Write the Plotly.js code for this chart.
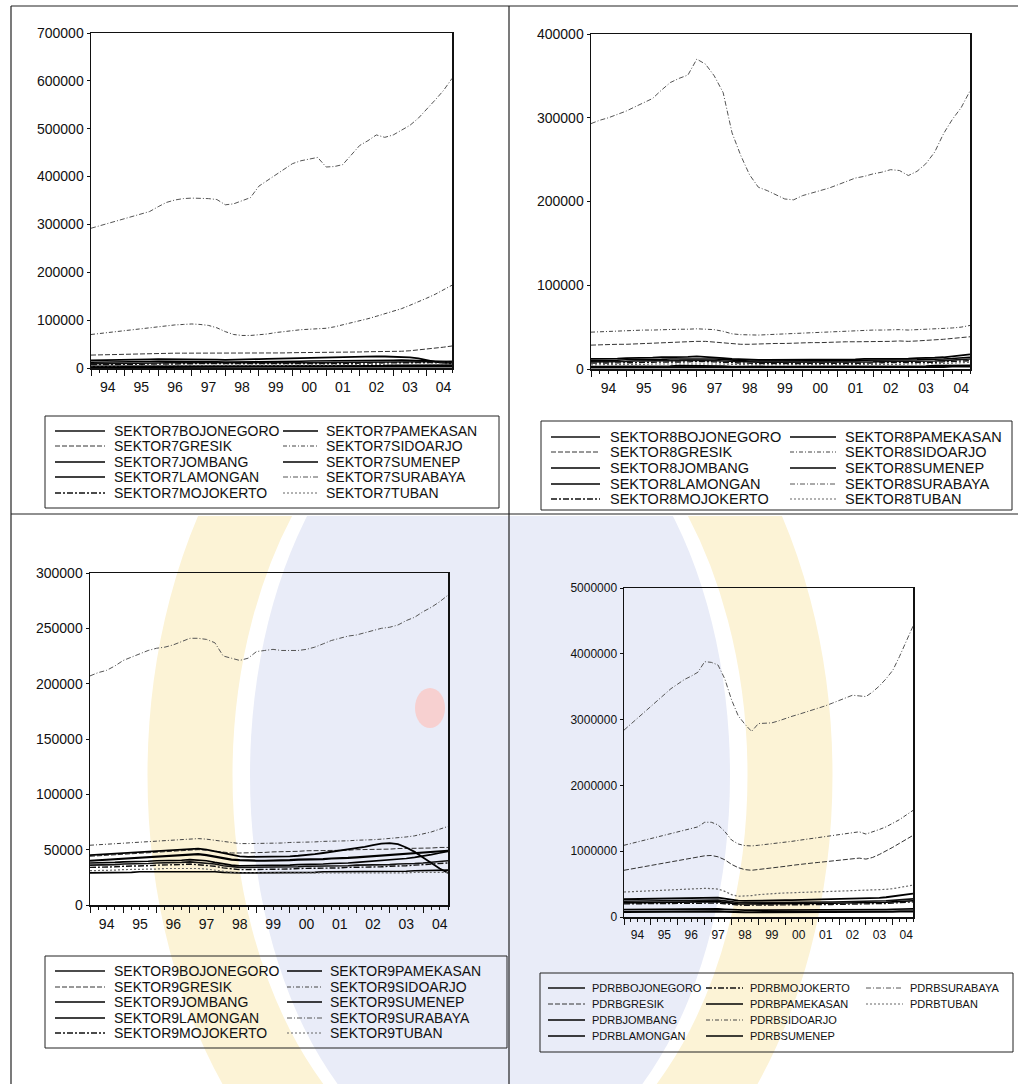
<!DOCTYPE html>
<html><head><meta charset="utf-8">
<script src="https://cdn.plot.ly/plotly-3.0.1.min.js"></script>
<style>html,body{margin:0;padding:0;background:#fff;}#chart{width:1018px;height:1084px;}</style>
</head><body><div id="chart"></div>
<script>
const W = 1018, H = 1084;
const FONT = 'Liberation Sans, Arial, sans-serif';

// quarterly periods 1994Q1 .. 2004Q4
const years = [1994,1995,1996,1997,1998,1999,2000,2001,2002,2003,2004];
const quarterMonths = ['01','04','07','10'];
const quarters = [];
years.forEach(y => quarterMonths.forEach(m => quarters.push(y + '-' + m + '-01')));

const regions = ['BOJONEGORO','GRESIK','JOMBANG','LAMONGAN','MOJOKERTO','PAMEKASAN','SIDOARJO','SUMENEP','SURABAYA','TUBAN'];

// ---- SEKTOR 7 ----
const s7_bojonegoro = [9000,9000,9500,9500,10000,10000,10000,10500,10500,11000,11000,11000,11000,11000,10500,10000,9500,9500,9500,9500,10000,10000,10000,10500,10500,10500,11000,11000,11000,11500,11500,11500,12000,12000,12000,12500,12500,12500,13000,13000,13000,13500,13500,14000];
const s7_gresik = [27000,27500,28000,28500,29000,29500,30000,30000,30500,30500,31000,31000,31000,31000,30500,30500,30000,30000,30000,30000,30500,31000,31000,31500,32000,32000,32500,32500,33000,33000,33000,33500,33500,34000,34000,34000,34500,35000,36000,37500,39000,41000,43500,46000];
const s7_jombang = [12000,12000,12500,12500,13000,13000,13500,13500,14000,14000,14500,14500,14500,14000,13500,13000,12500,12500,12500,13000,13000,13500,13500,14000,14000,14000,14500,14500,15000,15000,15000,15500,15500,15500,16000,16000,16000,16500,16500,16000,15000,14000,13000,12500];
const s7_lamongan = [16000,16500,17000,17000,17500,17500,18000,18000,18500,18500,19000,19000,19000,18500,18000,17500,17000,17000,17500,18000,18500,19000,19500,20000,20500,21000,21500,22000,22500,23000,23500,24000,24500,24500,24500,24000,23500,23000,22000,20000,16000,13000,11000,10000];
const s7_mojokerto = [7000,7000,7500,7500,7500,8000,8000,8000,8500,8500,8500,9000,9000,9000,8500,8500,8000,8000,8000,8000,8000,8500,8500,8500,9000,9000,9000,9000,9500,9500,9500,10000,10000,10000,10500,10500,10500,11000,11000,11000,11500,11500,12000,12000];
const s7_pamekasan = [2000,2000,2000,2000,2000,2500,2500,2500,2500,2500,2500,2500,2500,2500,2500,2500,2000,2000,2000,2000,2000,2000,2000,2500,2500,2500,2500,2500,2500,2500,2500,3000,3000,3000,3000,3000,3000,3000,3000,3500,3500,3500,3500,3500];
const s7_sidoarjo = [70000,72000,74000,76000,78000,80000,82000,84000,87000,89000,90000,91000,92000,91000,89000,84000,76000,70000,68000,68000,69000,71000,74000,76000,79000,80000,81000,82000,83000,86000,90000,95000,99000,103000,108000,113000,118000,124000,131000,138000,146000,154000,163000,173000];
const s7_sumenep = [3500,3500,3500,3500,4000,4000,4000,4000,4000,4500,4500,4500,4500,4500,4000,4000,4000,3500,3500,3500,3500,4000,4000,4000,4000,4000,4500,4500,4500,4500,4500,5000,5000,5000,5000,5000,5500,5500,5500,5500,6000,6000,6000,6000];
const s7_surabaya = [292000,297000,302000,307000,312000,317000,322000,327000,337000,346000,351000,354000,355000,355000,354000,352000,341000,343000,349000,356000,380000,392000,403000,416000,427000,433000,437000,440000,420000,421000,425000,445000,465000,475000,487000,482000,487000,497000,507000,522000,540000,560000,580000,605000];
const s7_tuban = [5000,5000,5000,5500,5500,5500,6000,6000,6000,6000,6500,6500,6500,6500,6000,6000,5500,5500,5500,5500,5500,6000,6000,6000,6000,6000,6500,6500,6500,6500,7000,7000,7000,7000,7500,7500,7500,7500,8000,8000,8000,8500,8500,8500];

// ---- SEKTOR 8 ----
const s8_bojonegoro = [8500,8500,9000,9000,9000,9500,9500,9500,10000,10000,10000,10500,10500,10500,10000,9500,9000,8500,8000,8000,8000,8000,8000,8000,8000,8000,8000,8500,8500,8500,8500,8500,8500,9000,9000,9000,9000,9000,9500,9500,10000,10500,11000,12000];
const s8_gresik = [28500,29000,29000,29500,29500,30000,30000,30500,31000,31500,32000,32500,33000,33000,32000,31000,30000,29500,29500,30000,30000,30500,30500,31000,31000,31500,31500,32000,32000,32500,32500,32500,33000,33000,33000,33500,33000,33500,34000,34500,35500,36500,37500,38500];
const s8_jombang = [10000,10000,10500,10500,11000,11000,11000,11500,11500,12000,12000,12500,12500,12500,12000,11500,10500,10000,9500,9500,9500,9500,9500,9500,9500,9500,10000,10000,10000,10000,10000,10500,10500,10500,10500,11000,11000,11000,11500,11500,12000,12500,13000,14000];
const s8_lamongan = [12000,12000,12500,12500,13000,13000,13500,13500,14000,14000,14500,14500,15000,14500,14000,13000,12000,11500,11000,11000,11000,11000,11000,11000,11000,11000,11000,11500,11500,11500,11500,12000,12000,12000,12500,12500,12500,13000,13000,13500,14000,15000,16000,17500];
const s8_mojokerto = [7000,7000,7000,7500,7500,7500,8000,8000,8000,8500,8500,8500,9000,9000,8500,8000,7500,7000,7000,6500,6500,6500,6500,6500,6500,6500,7000,7000,7000,7000,7000,7000,7000,7500,7500,7500,7500,7500,7500,8000,8500,9000,9500,10000];
const s8_pamekasan = [2000,2000,2000,2000,2000,2000,2500,2500,2500,2500,2500,2500,2500,2500,2500,2000,2000,2000,2000,2000,2000,2000,2000,2000,2000,2000,2000,2000,2000,2000,2000,2000,2500,2500,2500,2500,2500,2500,2500,2500,2500,3000,3000,3000];
const s8_sidoarjo = [44000,44500,45000,45500,46000,46000,46500,46500,47000,47000,47500,47500,48000,47500,47000,45000,42000,41000,40500,40500,41000,41500,42000,42500,43000,43500,44000,44500,45000,45500,46000,46000,46500,46500,47000,47000,46500,47000,47000,47500,48000,49000,50000,52000];
const s8_sumenep = [3000,3000,3000,3000,3500,3500,3500,3500,3500,3500,4000,4000,4000,4000,3500,3500,3000,3000,3000,3000,3000,3000,3000,3000,3000,3000,3000,3000,3000,3500,3500,3500,3500,3500,3500,3500,3500,3500,3500,4000,4000,4000,4500,4500];
const s8_surabaya = [293000,297000,300000,304000,308000,313000,318000,323000,333000,342000,347000,351000,370000,364000,350000,330000,282000,255000,232000,217000,213000,208000,203000,202000,207000,210000,213000,216000,220000,224000,228000,230000,233000,235000,238000,237000,231000,236000,245000,259000,281000,298000,312000,332000];
const s8_tuban = [5000,5000,5000,5500,5500,5500,5500,6000,6000,6000,6000,6500,6500,6500,6000,6000,5500,5000,5000,5000,5000,5000,5000,5000,5000,5000,5000,5000,5500,5500,5500,5500,5500,5500,5500,5500,6000,6000,6000,6000,6500,7000,7500,8000];

// ---- SEKTOR 9 ----
const s9_bojonegoro = [36000,36000,36500,36500,37000,37000,37500,37500,38000,38000,38500,38500,39000,38500,38000,37000,35500,34500,34000,34000,34000,34000,34000,34500,34500,34500,35000,35000,35000,35500,35500,35500,36000,36000,36000,36500,36500,37000,37000,37500,38000,38500,39000,40000];
const s9_gresik = [44000,44500,45000,45500,46000,46500,47000,47500,48000,48500,49000,49500,50000,50000,49500,48500,47500,47000,47000,47000,47500,47500,48000,48000,48500,48500,49000,49000,49000,49500,49500,49500,50000,50000,50000,50500,50500,51000,51000,51000,51500,51500,52000,52000];
const s9_jombang = [38000,38000,38500,38500,39000,39000,39500,39500,40000,40000,40500,40500,41000,40500,40000,38500,37000,36000,35500,35500,35500,35500,36000,36000,36000,36500,36500,37000,37000,37500,37500,38000,38500,39000,39500,40000,40500,41000,42000,43000,44000,45500,47000,48500];
const s9_lamongan = [45000,45500,46000,46500,47000,47500,48000,48500,49000,49500,50000,50500,51000,51000,50000,48500,46500,45000,44000,43500,43500,43500,43500,43500,44000,44500,45000,46000,47000,48000,49000,50000,51000,52500,54000,55500,56000,55000,52000,48000,43000,38000,33000,29000];
const s9_mojokerto = [34000,34000,34500,34500,35000,35000,35500,35500,36000,36000,36500,36500,37000,36500,36000,35000,33500,32500,32000,32000,32000,32000,32500,32500,32500,33000,33000,33000,33500,33500,33500,34000,34000,34000,34500,34500,35000,35000,35500,36000,36500,37000,37500,38000];
const s9_pamekasan = [40000,40500,41000,41500,42000,42500,43000,43500,44000,44500,45000,45500,46000,46000,45000,43500,42000,41000,40500,40000,40000,40000,40000,40500,40500,41000,41000,41500,41500,42000,42000,42500,43000,43500,44000,44500,45000,45500,46000,46500,47000,47500,48000,49000];
const s9_sidoarjo = [54000,54500,55000,55500,56000,56500,57000,57500,58000,58500,59000,59500,60000,60000,59500,58500,57000,56000,55500,55500,55500,56000,56000,56000,56500,56500,57000,57000,57500,57500,58000,58000,58500,58500,59000,59500,60000,60500,61500,62500,64000,66000,68500,71000];
const s9_sumenep = [29000,29000,29000,29500,29500,29500,30000,30000,30000,30000,30500,30500,30500,30500,30000,30000,29500,29000,29000,29000,29000,29000,29000,29500,29500,29500,29500,29500,30000,30000,30000,30000,30000,30000,30500,30500,30500,30500,30500,31000,31000,31000,31500,31500];
const s9_surabaya = [207000,210000,212000,216000,221000,224000,227000,230000,232000,233000,235000,238000,241000,241000,240000,237000,225000,223000,221000,223000,229000,230000,231000,230000,230000,230000,231000,233000,236000,239000,241000,243000,244000,246000,248000,250000,251000,253000,257000,260000,265000,269000,274000,280000];
const s9_tuban = [31000,31000,31500,31500,32000,32000,32000,32500,32500,33000,33000,33000,33500,33000,32500,31500,30000,29500,29000,29000,28500,28500,28500,28500,28500,28500,28500,28500,28500,28500,28500,28500,28500,29000,29000,29000,29000,29000,29000,29500,29500,29500,29500,29500];

// ---- PDRB ----
const pdrb_bojonegoro = [240000,242000,244000,246000,248000,250000,252000,254000,256000,258000,260000,262000,264000,262000,258000,245000,228000,220000,216000,216000,217000,218000,219000,220000,221000,222000,223000,224000,225000,226000,227000,228000,229000,230000,231000,232000,232000,235000,240000,246000,253000,260000,268000,276000];
const pdrb_gresik = [710000,728000,746000,764000,782000,800000,818000,836000,855000,875000,895000,915000,930000,935000,915000,870000,800000,750000,720000,710000,720000,735000,750000,760000,770000,785000,800000,810000,820000,830000,840000,850000,860000,870000,880000,895000,880000,905000,950000,1000000,1060000,1120000,1180000,1240000];
const pdrb_jombang = [215000,217000,219000,221000,223000,225000,227000,229000,231000,233000,235000,237000,239000,237000,233000,222000,207000,200000,197000,197000,198000,199000,200000,201000,202000,203000,204000,205000,206000,207000,208000,209000,210000,211000,212000,213000,213000,215000,219000,224000,230000,236000,242000,248000];
const pdrb_lamongan = [270000,272000,275000,278000,280000,283000,286000,289000,292000,295000,298000,300000,302000,300000,295000,280000,260000,250000,245000,245000,247000,249000,251000,253000,255000,257000,259000,261000,263000,265000,267000,269000,271000,273000,275000,278000,278000,282000,290000,300000,312000,325000,340000,355000];
const pdrb_mojokerto = [200000,201500,203000,204500,206000,207500,209000,210500,212000,213500,215000,216500,218000,216000,212000,202000,188000,182000,179000,179000,180000,181000,182000,183000,184000,185000,186000,187000,188000,189000,190000,191000,192000,193000,194000,195000,195000,197000,201000,206000,212000,218000,224000,230000];
const pdrb_pamekasan = [78000,79000,80000,81000,82000,83000,84000,85000,86000,87000,88000,89000,90000,89000,87000,82000,76000,73000,72000,72000,72000,72500,73000,73500,74000,74500,75000,75500,76000,76500,77000,77500,78000,78500,79000,79500,80000,80500,81000,82000,83000,84000,85000,86000];
const pdrb_sidoarjo = [1090000,1115000,1140000,1165000,1190000,1215000,1240000,1265000,1290000,1315000,1340000,1370000,1440000,1440000,1400000,1300000,1170000,1110000,1085000,1080000,1090000,1100000,1110000,1120000,1135000,1150000,1165000,1180000,1195000,1210000,1225000,1240000,1255000,1270000,1285000,1295000,1260000,1290000,1330000,1370000,1420000,1480000,1550000,1620000];
const pdrb_sumenep = [115000,116000,117000,118000,119000,120000,121000,122000,123000,124000,125000,126000,127000,126000,124000,118000,110000,106000,104000,104000,104000,105000,105000,106000,106000,107000,107000,108000,108000,109000,109000,110000,110000,111000,111000,112000,112000,113000,114000,115000,117000,119000,121000,123000];
const pdrb_surabaya = [2840000,2930000,3020000,3110000,3200000,3290000,3380000,3470000,3540000,3610000,3660000,3720000,3880000,3870000,3830000,3620000,3300000,3060000,2930000,2820000,2940000,2940000,2950000,2980000,3020000,3050000,3080000,3110000,3140000,3170000,3210000,3250000,3290000,3330000,3370000,3360000,3350000,3420000,3510000,3620000,3750000,3960000,4200000,4420000];
const pdrb_tuban = [380000,385000,390000,395000,400000,405000,410000,415000,420000,425000,430000,432000,435000,432000,425000,390000,340000,315000,315000,325000,340000,350000,355000,360000,365000,370000,375000,378000,380000,383000,386000,390000,393000,396000,400000,405000,400000,405000,410000,420000,430000,445000,465000,485000];

// line styles per region (same order as regions)
const styles = [
  {color:'#111', width:1.6, dash:'solid'},
  {color:'#333', width:1,   dash:'5px,2px'},
  {color:'#000', width:1.6, dash:'solid'},
  {color:'#000', width:1.8, dash:'solid'},
  {color:'#111', width:1.4, dash:'6px,2px,2px,2px'},
  {color:'#000', width:2.2, dash:'solid'},
  {color:'#444', width:1,   dash:'4px,2px,1px,2px'},
  {color:'#000', width:1.6, dash:'solid'},
  {color:'#555', width:1,   dash:'5px,2px,1px,2px'},
  {color:'#666', width:1.2, dash:'2px,2px'}
];

const X = px => px / W;
const Y = py => 1 - py / H;

const panels = [
  {prefix:'SEKTOR7', series:[s7_bojonegoro,s7_gresik,s7_jombang,s7_lamongan,s7_mojokerto,s7_pamekasan,s7_sidoarjo,s7_sumenep,s7_surabaya,s7_tuban],
   box:[91,33,452,368], yRange:[0,700000], dtick:100000, fs:14,
   legend:{box:[45,416,499,508], rows:[431,446,462,477,493], fs:14,
     cols:[{s0:55,s1:105,t:112,items:[0,1,2,3,4]},{s0:283,s1:318,t:324,items:[5,6,7,8,9]}]}},
  {prefix:'SEKTOR8', series:[s8_bojonegoro,s8_gresik,s8_jombang,s8_lamongan,s8_mojokerto,s8_pamekasan,s8_sidoarjo,s8_sumenep,s8_surabaya,s8_tuban],
   box:[591,34,970,369], yRange:[0,400000], dtick:100000, fs:14,
   legend:{box:[541,421,1012,510], rows:[437,452,468,484,499], fs:14.5,
     cols:[{s0:551,s1:600,t:608,items:[0,1,2,3,4]},{s0:790,s1:836,t:843,items:[5,6,7,8,9]}]}},
  {prefix:'SEKTOR9', series:[s9_bojonegoro,s9_gresik,s9_jombang,s9_lamongan,s9_mojokerto,s9_pamekasan,s9_sidoarjo,s9_sumenep,s9_surabaya,s9_tuban],
   box:[90,573,448,905], yRange:[0,300000], dtick:50000, fs:14,
   legend:{box:[45,956,507,1048], rows:[971,987,1002,1018,1033], fs:14,
     cols:[{s0:55,s1:105,t:112,items:[0,1,2,3,4]},{s0:287,s1:322,t:328,items:[5,6,7,8,9]}]}},
  {prefix:'PDRB', series:[pdrb_bojonegoro,pdrb_gresik,pdrb_jombang,pdrb_lamongan,pdrb_mojokerto,pdrb_pamekasan,pdrb_sidoarjo,pdrb_sumenep,pdrb_surabaya,pdrb_tuban],
   box:[624,588,913,917], yRange:[0,5000000], dtick:1000000, fs:12,
   legend:{box:[540,973,1013,1052], rows:[988,1004,1020,1036], fs:11,
     cols:[{s0:548,s1:585,t:590,items:[0,1,2,3]},{s0:706,s1:743,t:748,items:[4,5,6,7]},{s0:866,s1:903,t:908,items:[8,9]}]}}
];

const traces = [];
const layout = {
  width: W, height: H, margin:{l:0,r:0,t:0,b:0},
  paper_bgcolor:'#fff', plot_bgcolor:'rgba(0,0,0,0)', showlegend:false,
  font:{family:FONT, color:'#111'}, shapes:[], annotations:[], images:[]
};

panels.forEach((p, k) => {
  const n = k === 0 ? '' : String(k + 1);
  const xa = 'x' + n, ya = 'y' + n;
  p.series.forEach((vals, i) => {
    traces.push({type:'scatter', mode:'lines', x: quarters, y: vals, xaxis: xa, yaxis: ya,
      name: p.prefix + regions[i], line:{color:styles[i].color, width:styles[i].width, dash:styles[i].dash},
      hoverinfo:'skip', showlegend:false});
  });
  layout['xaxis' + n] = {
    domain:[X(p.box[0]), X(p.box[2])], anchor: ya, type:'date',
    range:['1994-01-01','2004-10-01'], tick0:'1994-01-01', dtick:'M12', tickformat:'%y', ticklabelmode:'period',
    ticks:'outside', ticklen:6, tickwidth:1, tickcolor:'#111',
    minor:{dtick:'M3', ticks:'outside', ticklen:3, tickwidth:1, tickcolor:'#111', showgrid:false},
    showline:true, linecolor:'#111', linewidth:1.5, mirror:true, showgrid:false, zeroline:false,
    tickfont:{family:FONT, size:p.fs, color:'#111'}, fixedrange:true
  };
  layout['yaxis' + n] = {
    domain:[Y(p.box[3]), Y(p.box[1])], anchor: xa, range:p.yRange, tick0:0, dtick:p.dtick, tickformat:'d',
    ticks:'outside', ticklen:3, tickwidth:1, tickcolor:'#111',
    showline:true, linecolor:'#111', linewidth:1.5, mirror:true, showgrid:false, zeroline:false,
    tickfont:{family:FONT, size:p.fs, color:'#111'}, fixedrange:true
  };
  // legend box drawn as layout decoration
  const L = p.legend;
  layout.shapes.push({type:'rect', xref:'paper', yref:'paper', x0:X(L.box[0]), x1:X(L.box[2]), y0:Y(L.box[3]), y1:Y(L.box[1]),
    line:{color:'#222', width:1}, fillcolor:'rgba(0,0,0,0)'});
  L.cols.forEach(col => col.items.forEach((ri, r) => {
    const ry = L.rows[r];
    layout.shapes.push({type:'line', xref:'paper', yref:'paper', x0:X(col.s0), x1:X(col.s1), y0:Y(ry), y1:Y(ry),
      line:{color:styles[ri].color, width:Math.min(styles[ri].width, 1.6), dash:styles[ri].dash}});
    layout.annotations.push({xref:'paper', yref:'paper', x:X(col.t), y:Y(ry), xanchor:'left', yanchor:'middle',
      showarrow:false, text:p.prefix + regions[ri], font:{family:FONT, size:L.fs, color:'#111'}});
  }));
});

// page frame lines
const frame = [[11,6,1018,6],[11,6,11,1084],[509,6,509,1084],[11,514,1018,514]];
frame.forEach(f => layout.shapes.push({type:'line', xref:'paper', yref:'paper', x0:X(f[0]), y0:Y(f[1]), x1:X(f[2]), y1:Y(f[3]), line:{color:'#222', width:1.2}}));

// faint scanned watermark behind the lower half
const wm = "<svg xmlns='http://www.w3.org/2000/svg' width='1018' height='1084' viewBox='0 0 1018 1084'>" +
  "<defs><clipPath id='c'><rect x='12' y='516' width='1006' height='568'/></clipPath></defs>" +
  "<g clip-path='url(#c)'>" +
  "<ellipse cx='490' cy='775' rx='300' ry='450' fill='none' stroke='#fcf3d6' stroke-width='85'/>" +
  "<ellipse cx='490' cy='775' rx='240' ry='400' fill='#e9ecf8'/>" +
  "<ellipse cx='430' cy='708' rx='15' ry='20' fill='#f7d0d0'/>" +
  "</g></svg>";
layout.images.push({source:'data:image/svg+xml;charset=utf-8,' + encodeURIComponent(wm), xref:'paper', yref:'paper',
  x:0, y:1, sizex:1, sizey:1, xanchor:'left', yanchor:'top', sizing:'stretch', layer:'below'});

Plotly.newPlot('chart', traces, layout, {staticPlot:true, displayModeBar:false});
</script>
</body></html>
